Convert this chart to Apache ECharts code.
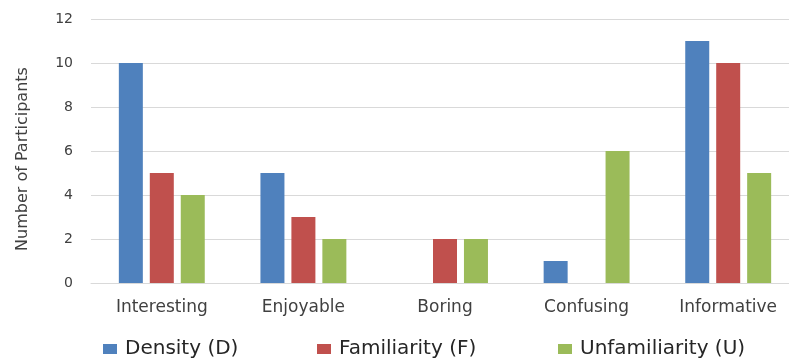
<!DOCTYPE html>
<html>
<head>
<meta charset="utf-8">
<script src="https://cdn.jsdelivr.net/npm/echarts@6/dist/echarts.min.js"></script>
<style>
  html, body { margin: 0; padding: 0; background: #ffffff; overflow: hidden; }
  /* the plot area runs a little past the right edge of the window */
  #chart { width: 800px; height: 362px; }
</style>
</head>
<body>
<div id="chart"></div>
<script>
// Survey responses per impression, grouped by visualization condition
const categories = ['Interesting', 'Enjoyable', 'Boring', 'Confusing', 'Informative'];
const densityValues = [10, 5, 0, 1, 11];
const familiarityValues = [5, 3, 2, 0, 10];
const unfamiliarityValues = [4, 2, 2, 6, 5];
const yTicks = { min: 0, max: 12, interval: 2 };
const seriesNames = ['Density (D)', 'Familiarity (F)', 'Unfamiliarity (U)'];

const colors = ['#4f81bd', '#c0504d', '#9bbb59'];
const fontFamily = '"DejaVu Sans", "Open Sans", sans-serif';
const textColor = '#404040';

const chart = echarts.init(document.getElementById('chart'), null, { renderer: 'canvas' });

function legendAt(name, left) {
  return {
    data: [name],
    left: left,
    top: 334,
    itemWidth: 14,
    itemHeight: 10,
    itemGap: 0,
    icon: 'rect',
    selectedMode: false,
    textStyle: { fontFamily: fontFamily, fontSize: 20, color: '#262626', padding: [0, 0, 0, 3] }
  };
}

chart.setOption({
  animation: false,
  color: colors,
  grid: { left: 91, width: 708, top: 19, bottom: 79, containLabel: false },
  legend: [
    legendAt(seriesNames[0], 98),
    legendAt(seriesNames[1], 312),
    legendAt(seriesNames[2], 553)
  ],
  xAxis: {
    type: 'category',
    data: categories,
    axisTick: { show: false },
    axisLine: { lineStyle: { color: '#d9d9d9', width: 1 } },
    axisLabel: { fontFamily: fontFamily, fontSize: 17, color: textColor, margin: 16 }
  },
  yAxis: {
    type: 'value',
    min: yTicks.min,
    max: yTicks.max,
    interval: yTicks.interval,
    name: 'Number of Participants',
    nameLocation: 'middle',
    nameGap: 60,
    nameRotate: 90,
    nameTextStyle: { fontFamily: fontFamily, fontSize: 16, color: textColor, padding: [0, 16, 0, 0] },
    axisLine: { show: false },
    axisTick: { show: false },
    axisLabel: { fontFamily: fontFamily, fontSize: 14, color: textColor, margin: 18 },
    splitLine: { lineStyle: { color: '#d9d9d9', width: 1 } }
  },
  series: [
    { name: seriesNames[0], type: 'bar', data: densityValues, barWidth: 24, barGap: '29%' },
    { name: seriesNames[1], type: 'bar', data: familiarityValues, barWidth: 24, barGap: '29%' },
    { name: seriesNames[2], type: 'bar', data: unfamiliarityValues, barWidth: 24, barGap: '29%' }
  ]
});
</script>
</body>
</html>
